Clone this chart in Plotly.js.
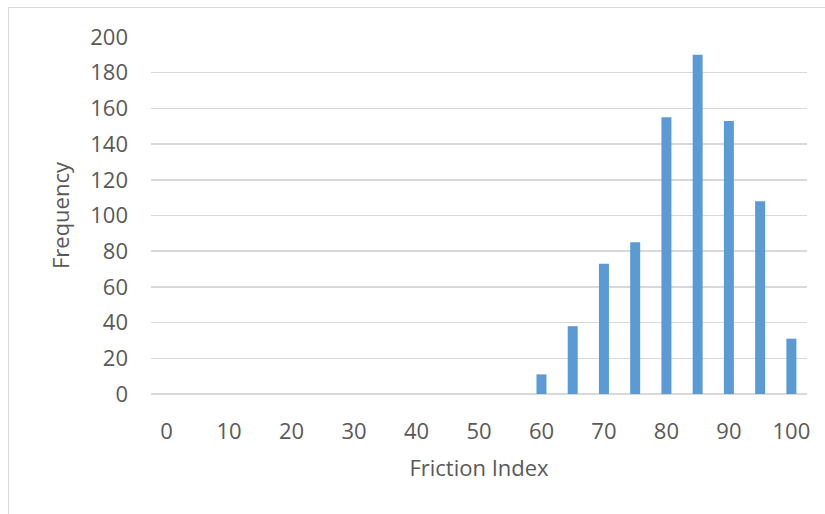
<!DOCTYPE html>
<html>
<head>
<meta charset="utf-8">
<script src="https://cdn.plot.ly/plotly-3.0.1.min.js"></script>
<style>
  html, body { margin: 0; padding: 0; background: #ffffff; overflow: hidden; }
  #chart { position: absolute; left: 0; top: 0; width: 825px; height: 514px; }
  #frame { position: absolute; left: 8px; top: 7px; width: 900px; height: 700px; border: 1px solid #d9d9d9; pointer-events: none; }
</style>
</head>
<body>
<div id="chart"></div>
<div id="frame"></div>
<script>
const bins = ['0','5','10','15','20','25','30','35','40','45','50','55','60','65','70','75','80','85','90','95','100'];
const frequency = [0,0,0,0,0,0,0,0,0,0,0,0,11,38,73,85,155,190,153,108,31];
const shownTicks = ['0','10','20','30','40','50','60','70','80','90','100'];
const yTicks = [0,20,40,60,80,100,120,140,160,180,200];

const fontFamily = '"Open Sans", "Liberation Sans", sans-serif';
const textColor = '#595959';

Plotly.newPlot('chart', [{
  type: 'bar',
  x: bins,
  y: frequency,
  marker: { color: '#5b9bd5' },
  hoverinfo: 'x+y'
}], {
  width: 825,
  height: 514,
  margin: { l: 151, r: 18, t: 37, b: 120, pad: 0 },
  paper_bgcolor: 'rgba(0,0,0,0)',
  plot_bgcolor: 'rgba(0,0,0,0)',
  bargap: 0.68,
  showlegend: false,
  font: { family: fontFamily, color: textColor, size: 22 },
  xaxis: {
    type: 'category',
    categoryorder: 'array',
    categoryarray: bins,
    tickmode: 'array',
    tickvals: shownTicks,
    ticktext: shownTicks,
    showgrid: false,
    showline: false,
    zeroline: false,
    ticks: '',
    ticklabelstandoff: 22,
    tickfont: { family: fontFamily, color: textColor, size: 22 },
    title: { text: 'Friction Index', font: { family: fontFamily, color: textColor, size: 22 }, standoff: 16 }
  },
  yaxis: {
    range: [0, 200],
    tickmode: 'array',
    tickvals: yTicks,
    showgrid: true,
    gridcolor: '#d9d9d9',
    gridwidth: 1.5,
    zeroline: true,
    zerolinecolor: '#d9d9d9',
    zerolinewidth: 1.5,
    showline: false,
    ticks: '',
    ticklabelstandoff: 22,
    tickfont: { family: fontFamily, color: textColor, size: 22 },
    title: { text: 'Frequency', font: { family: fontFamily, color: textColor, size: 22 }, standoff: 14 }
  }
}, { staticPlot: true, displayModeBar: false });
</script>
</body>
</html>
